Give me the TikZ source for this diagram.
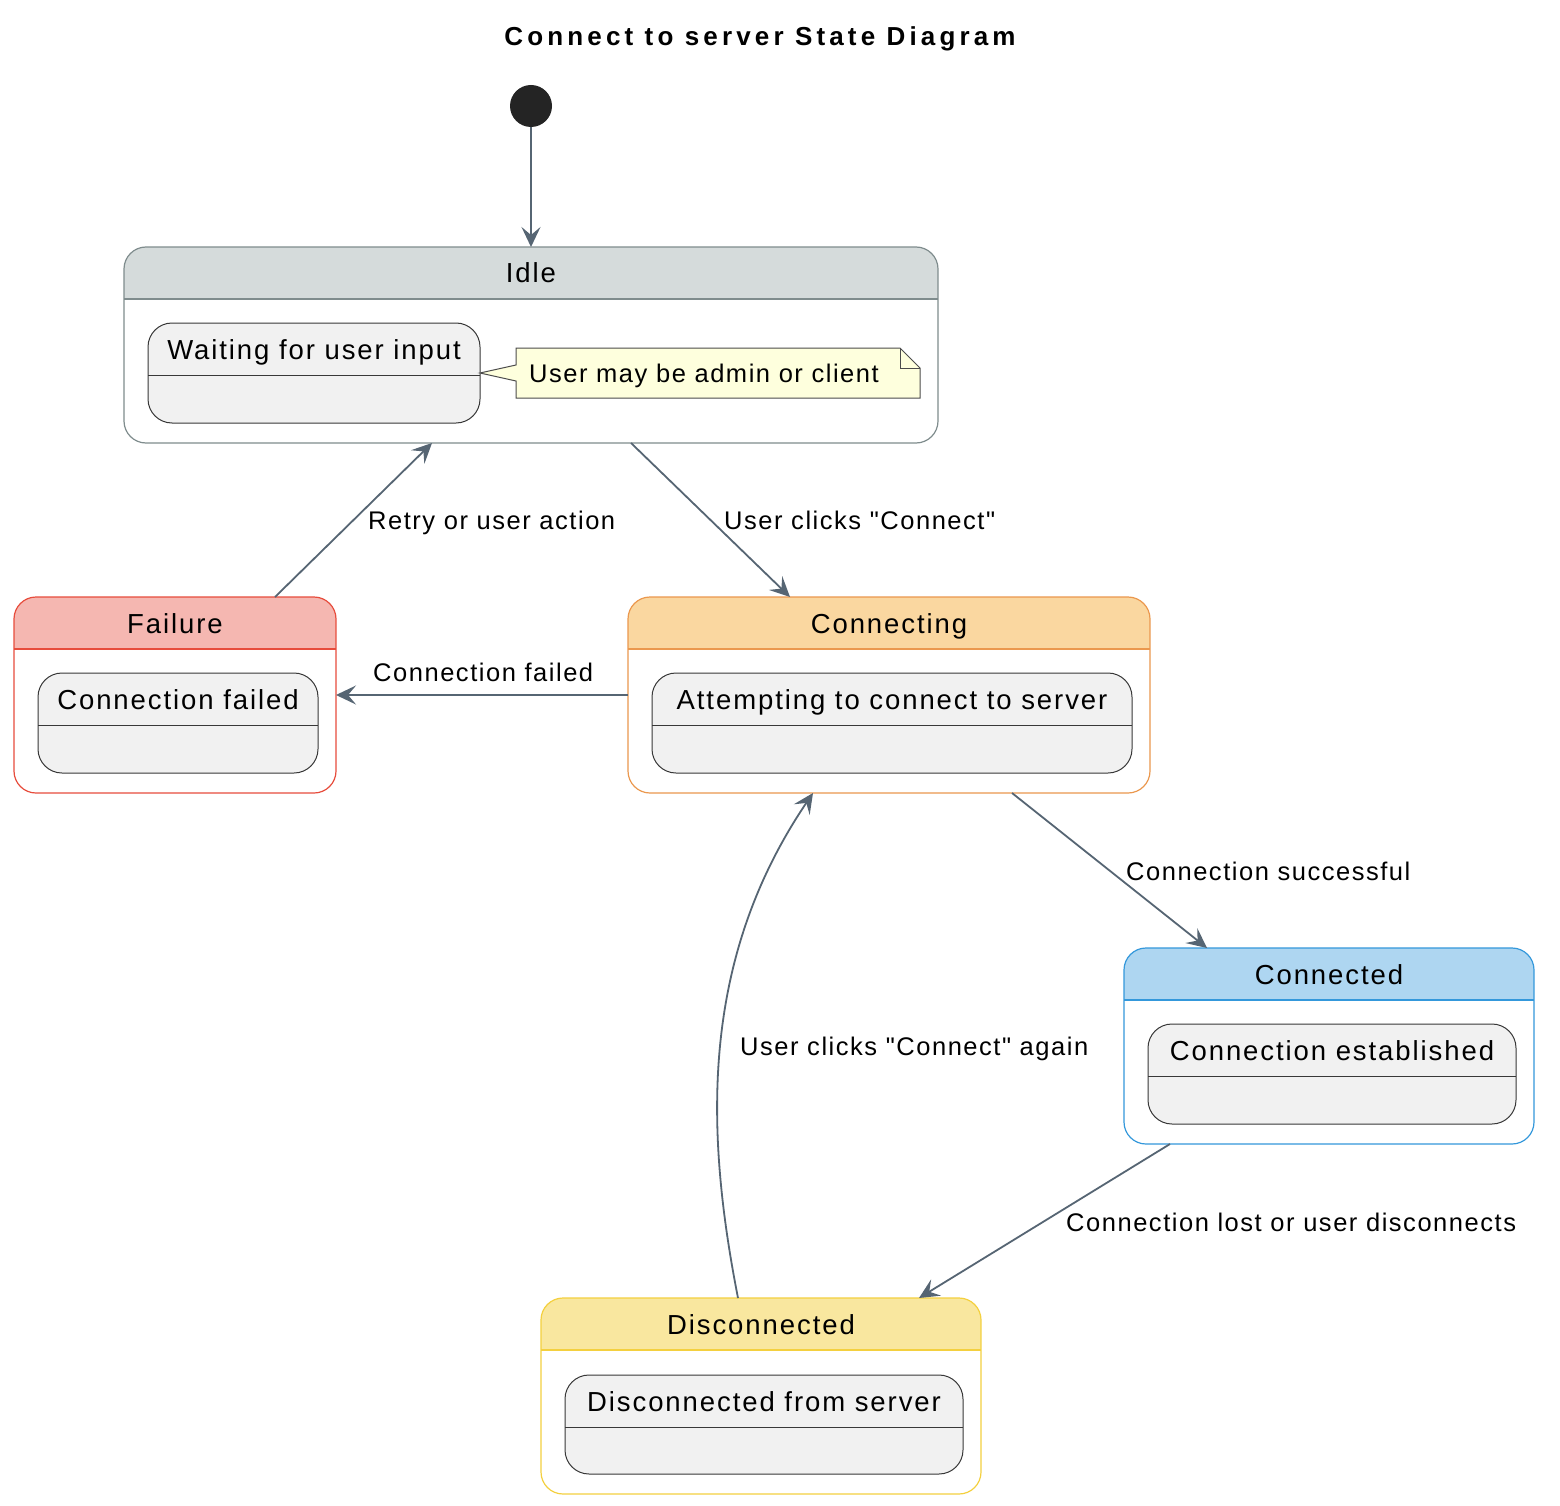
\documentclass[tikz,border=0pt]{standalone}
\usepackage{fontspec}
\setmainfont{Liberation Sans}
\newfontfamily\spacedfont[LetterSpace=7]{Liberation Sans}
\newfontfamily\labelfont[LetterSpace=6]{Liberation Sans}
\newfontfamily\titlefont[LetterSpace=16]{Liberation Sans}
\usetikzlibrary{arrows.meta}

\definecolor{arrowc}{HTML}{566573}
\definecolor{subfill}{HTML}{F1F1F1}
\definecolor{subline}{HTML}{383838}
\definecolor{notefill}{HTML}{FEFFDD}
\definecolor{idlehdr}{HTML}{D5DBDB}
\definecolor{idleline}{HTML}{7F8C8D}
\definecolor{failhdr}{HTML}{F5B7B1}
\definecolor{failline}{HTML}{E74C3C}
\definecolor{connghdr}{HTML}{FAD7A0}
\definecolor{conngline}{HTML}{EB984E}
\definecolor{conndhdr}{HTML}{AED6F1}
\definecolor{conndline}{HTML}{3498DB}
\definecolor{dischdr}{HTML}{F9E79F}
\definecolor{discline}{HTML}{F4D03F}

\tikzset{
  region/.style={rectangle, inner sep=0pt, outer sep=0pt},
  statetitle/.style={anchor=base, inner sep=0pt, font=\spacedfont\fontsize{27.5}{32}\selectfont},
  subtitle/.style={anchor=base, inner sep=0pt, font=\spacedfont\fontsize{27.5}{32}\selectfont},
  edgelabel/.style={anchor=base west, inner sep=0pt, font=\labelfont\fontsize{25.5}{30}\selectfont},
  trans/.style={draw=arrowc, line width=1.8pt, -{Stealth[length=20pt, width=19pt, inset=8pt]}},
}

% composite state: name, x1, y1, x2, y2, header fill, border colour, title
\newcommand\statebox[8]{%
  \node[region, minimum width={#4-#2}, minimum height={#5-#3}] (#1) at ({(#2+#4)/2},{(#3+#5)/2}) {};
  \fill[white, rounded corners=22pt] (#2,#3) rectangle (#4,#5);
  \begin{scope}
    \clip[rounded corners=22pt] (#2,#3) rectangle (#4,#5);
    \fill[#6] (#2,#3) rectangle (#4,#3+52);
  \end{scope}
  \draw[#7, line width=1.2pt] (#2,#3+52) -- (#4,#3+52);
  \draw[#7, line width=1.2pt, rounded corners=22pt] (#2,#3) rectangle (#4,#5);
  \node[statetitle] at ({(#2+#4)/2},#3+36) {#8};
}

% inner state: name, x1, y1, x2, y2, text
\newcommand\substate[6]{%
  \node[region, minimum width={#4-#2}, minimum height={#5-#3}] (#1) at ({(#2+#4)/2},{(#3+#5)/2}) {};
  \filldraw[fill=subfill, draw=subline, line width=1pt, rounded corners=24pt] (#2,#3) rectangle (#4,#5);
  \draw[subline, line width=1pt] (#2,#3+52) -- (#4,#3+52);
  \node[subtitle] at ({(#2+#4)/2},#3+36) {#6};
}

\begin{document}
\begin{tikzpicture}[x=1pt, y=-1pt]
\useasboundingbox (0,0) rectangle (1560,1506);
\fill[white] (0,0) rectangle (1560,1506);

% title
\node[anchor=base, inner sep=0pt, font=\titlefont\bfseries\fontsize{26}{30}\selectfont] (title) at (760,46) {Connect to server State Diagram};

% initial pseudo-state
\node[circle, fill=black!86, minimum size=42pt, inner sep=0pt, outer sep=0pt] (init) at (531,106) {};

% states
\statebox{idle}{124}{247}{938}{443}{idlehdr}{idleline}{Idle}
\substate{waiting}{148}{323}{480}{423}{Waiting for user input}

\statebox{failure}{14}{597}{336}{793}{failhdr}{failline}{Failure}
\substate{failed}{38}{673}{318}{773}{Connection failed}

\statebox{connecting}{628}{597}{1150}{793}{connghdr}{conngline}{Connecting}
\substate{attempting}{652}{673}{1132}{773}{Attempting to connect to server}

\statebox{connected}{1124}{948}{1534}{1144}{conndhdr}{conndline}{Connected}
\substate{established}{1148}{1024}{1516}{1124}{Connection established}

\statebox{disconnected}{541}{1298}{981}{1494}{dischdr}{discline}{Disconnected}
\substate{fromserver}{565}{1375}{963}{1474}{Disconnected from server}

% note attached to the waiting state
\filldraw[fill=notefill, draw=black!70, line width=1pt]
  (waiting.east) -- (516,365) -- (516,348) -- (900,348) -- (920,368) -- (920,398)
  -- (516,398) -- (516,381) -- cycle;
\draw[black!70, line width=1pt] (900,348) -- (900,368) -- (920,368);
\node[edgelabel] (note) at (529,382) {User may be admin or client};

% transitions
\draw[trans] (init) -- (idle.north);
\draw[trans] ([xshift=100pt]idle.south) -- ([xshift=-99pt]connecting.north);
\draw[trans] ([xshift=100pt]failure.north) -- ([xshift=-99pt]idle.south);
\draw[trans] (connecting.west) -- (failure.east);
\draw[trans] ([xshift=123pt]connecting.south) -- ([xshift=-122pt]connected.north);
\draw[trans] ([xshift=-159pt]connected.south) -- ([xshift=158pt]disconnected.north);
\draw[trans] ([xshift=-23pt]disconnected.north) .. controls (705,1130) and (700,960) .. ([xshift=-76pt]connecting.south);

% transition labels
\node[edgelabel] (lretry) at (368,529) {Retry or user action};
\node[edgelabel] (lclick) at (724,529) {User clicks "Connect"};
\node[edgelabel] (lfail) at (373,681) {Connection failed};
\node[edgelabel] (lsucc) at (1126,880) {Connection successful};
\node[edgelabel] (llost) at (1066,1231) {Connection lost or user disconnects};
\node[edgelabel] (lagain) at (740,1055) {User clicks "Connect" again};
\end{tikzpicture}
\end{document}
